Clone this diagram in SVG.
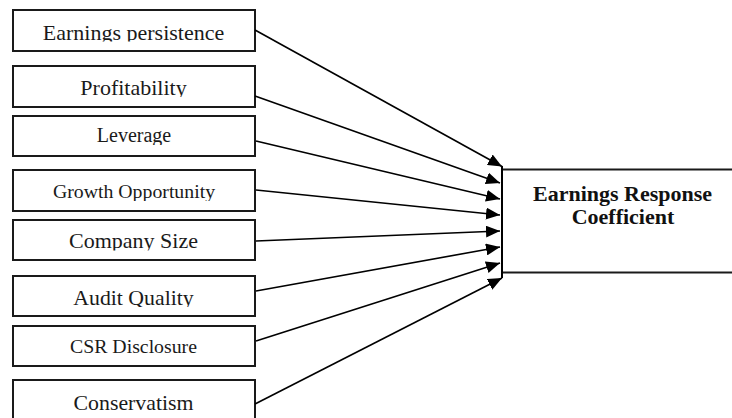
<svg xmlns="http://www.w3.org/2000/svg" width="732" height="418" viewBox="0 0 732 418">
<style>
.box{fill:#fff;stroke:#1a1a1a;stroke-width:2}
.lbl{font-family:"Liberation Serif","Times New Roman",serif;fill:#1a1a1a;text-anchor:middle}
.c{stroke:#000;stroke-width:1.6;fill:none;marker-end:url(#ah)}
.t{font-family:"Liberation Serif","Times New Roman",serif;font-weight:bold;fill:#111;text-anchor:middle;font-size:22px}
</style>
<defs>
<marker id="ah" markerUnits="userSpaceOnUse" markerWidth="15" markerHeight="12" refX="14" refY="6" orient="auto">
<path d="M0,0 L14,6 L0,12 Z" fill="#000"/>
</marker>
<clipPath id="k1"><rect x="14" y="11" width="240" height="30.5"/></clipPath>
<clipPath id="k2"><rect x="14" y="67" width="240" height="30"/></clipPath>
<clipPath id="k3"><rect x="14" y="117" width="240" height="28"/></clipPath>
<clipPath id="k4"><rect x="14" y="171" width="240" height="30"/></clipPath>
<clipPath id="k5"><rect x="14" y="221" width="240" height="29.5"/></clipPath>
<clipPath id="k6"><rect x="14" y="277" width="240" height="30"/></clipPath>
</defs>
<rect width="732" height="418" fill="#fff"/>
<g id="n1"><rect class="box" x="13" y="10" width="242" height="41"/><text class="lbl" x="133.5" y="39.5" font-size="22" clip-path="url(#k1)">Earnings persistence</text></g>
<g id="n2"><rect class="box" x="13" y="66" width="242" height="41"/><text class="lbl" x="133.5" y="95" font-size="22" clip-path="url(#k2)">Profitability</text></g>
<g id="n3"><rect class="box" x="13" y="116" width="242" height="40"/><text class="lbl" x="134" y="141.5" font-size="20" clip-path="url(#k3)">Leverage</text></g>
<g id="n4"><rect class="box" x="13" y="170" width="242" height="41"/><text class="lbl" x="134" y="198" font-size="19.8" clip-path="url(#k4)">Growth Opportunity</text></g>
<g id="n5"><rect class="box" x="13" y="220" width="242" height="40"/><text class="lbl" x="133.5" y="248" font-size="22" clip-path="url(#k5)">Company Size</text></g>
<g id="n6"><rect class="box" x="13" y="276" width="242" height="40"/><text class="lbl" x="133.5" y="305" font-size="21.8" clip-path="url(#k6)">Audit Quality</text></g>
<g id="n7"><rect class="box" x="13" y="326" width="242" height="40"/><text class="lbl" x="133.5" y="352.5" font-size="19.8">CSR Disclosure</text></g>
<g id="n8"><rect class="box" x="13" y="380" width="242" height="45"/><text class="lbl" x="133.5" y="410" font-size="21.8">Conservatism</text></g>
<g id="erc"><rect class="box" x="502" y="169.5" width="240" height="103"/><text class="t" x="622.5" y="200.5">Earnings Response</text><text class="t" x="623" y="224">Coefficient</text></g>
<g id="connectors">
<line class="c" x1="255" y1="30" x2="502" y2="166.5"/>
<line class="c" x1="255" y1="96" x2="500" y2="183"/>
<line class="c" x1="256" y1="141" x2="500" y2="199"/>
<line class="c" x1="256" y1="190" x2="500" y2="215"/>
<line class="c" x1="256" y1="241" x2="500" y2="231"/>
<line class="c" x1="256" y1="291" x2="500" y2="247"/>
<line class="c" x1="256" y1="341" x2="500" y2="263"/>
<line class="c" x1="255" y1="404" x2="502" y2="278"/>
<line x1="502" y1="166" x2="502" y2="278" stroke="#000" stroke-width="2"/>
</g>
</svg>
